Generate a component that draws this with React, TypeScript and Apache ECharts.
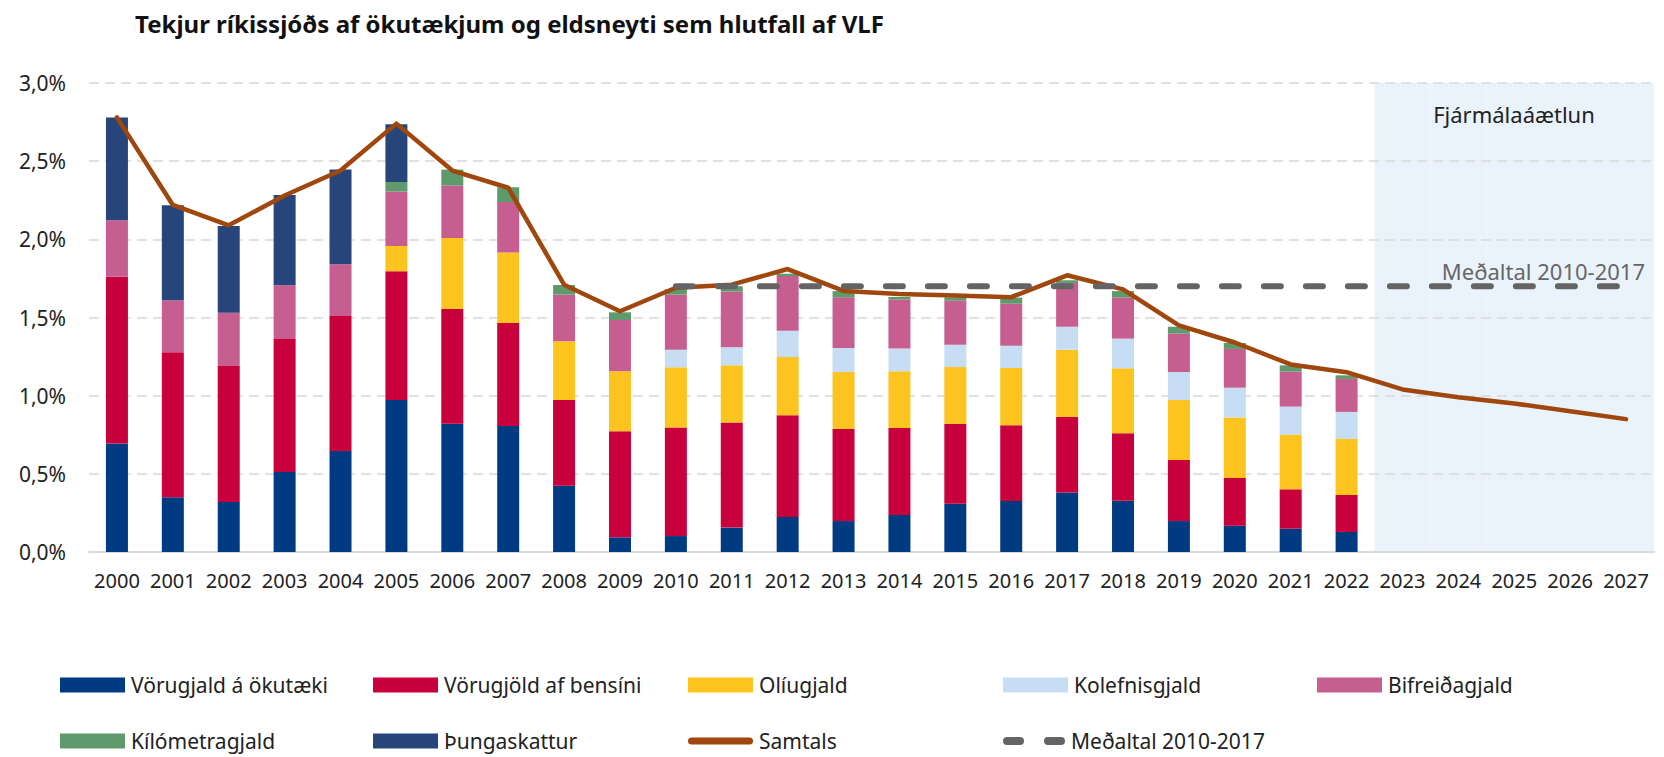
import React, { useEffect, useRef } from 'react';
import * as echarts from 'echarts';

const categories = ['2000','2001','2002','2003','2004','2005','2006','2007','2008','2009','2010','2011','2012','2013','2014','2015','2016','2017','2018','2019','2020','2021','2022','2023','2024','2025','2026','2027'];

const vorugjaldOkutaeki = [0.694,0.350,0.320,0.512,0.646,0.973,0.821,0.806,0.424,0.094,0.102,0.156,0.224,0.198,0.237,0.309,0.326,0.380,0.328,0.198,0.168,0.149,0.128];
const vorugjoldBensini = [1.066,0.928,0.870,0.851,0.864,0.823,0.734,0.659,0.548,0.678,0.695,0.673,0.650,0.589,0.556,0.510,0.484,0.484,0.431,0.390,0.305,0.252,0.237];
const oliugjald = [0,0,0,0,0,0.162,0.454,0.451,0.376,0.384,0.384,0.365,0.373,0.364,0.363,0.364,0.367,0.430,0.416,0.384,0.388,0.350,0.358];
const kolefnisgjald = [0,0,0,0,0,0,0,0,0,0,0.113,0.115,0.169,0.154,0.145,0.143,0.143,0.147,0.190,0.179,0.190,0.179,0.173];
const bifreidagjald = [0.362,0.332,0.341,0.343,0.331,0.348,0.335,0.323,0.298,0.328,0.352,0.356,0.349,0.324,0.313,0.282,0.268,0.280,0.262,0.246,0.248,0.224,0.211];
const kilometragjald = [0,0,0,0,0,0.061,0.102,0.094,0.062,0.049,0.036,0.035,0.015,0.040,0.017,0.021,0.039,0.017,0.042,0.044,0.038,0.040,0.023];
const thungaskattur = [0.657,0.608,0.555,0.578,0.605,0.369,0,0,0,0,0,0,0,0,0,0,0,0,0,0,0,0,0];
const samtals = [2.78,2.22,2.09,2.28,2.44,2.74,2.44,2.33,1.71,1.54,1.69,1.71,1.81,1.67,1.65,1.64,1.63,1.77,1.68,1.45,1.34,1.20,1.15,1.04,0.99,0.95,0.90,0.85];
const medaltal = [null,null,null,null,null,null,null,null,null,null,1.70,1.70,1.70,1.70,1.70,1.70,1.70,1.70,1.70,1.70,1.70,1.70,1.70,1.70,1.70,1.70,1.70,1.70];
const forecastBand = [null,null,null,null,null,null,null,null,null,null,null,null,null,null,null,null,null,null,null,null,null,null,null,3,3,3,3,3];
const yTicks = [0, 0.5, 1, 1.5, 2, 2.5, 3];

const FONT = '"Noto Sans", sans-serif';

const barSeriesDefs = [
  { name: 'Vörugjald á ökutæki', data: vorugjaldOkutaeki, color: '#003B82' },
  { name: 'Vörugjöld af bensíni', data: vorugjoldBensini, color: '#C8003C' },
  { name: 'Olíugjald', data: oliugjald, color: '#FDC41F' },
  { name: 'Kolefnisgjald', data: kolefnisgjald, color: '#C7DDF3' },
  { name: 'Bifreiðagjald', data: bifreidagjald, color: '#C65F90' },
  { name: 'Kílómetragjald', data: kilometragjald, color: '#5E9A6C' },
  { name: 'Þungaskattur', data: thungaskattur, color: '#26457A' },
];

const legendOrder = [
  'Vörugjald á ökutæki', 'Vörugjöld af bensíni', 'Olíugjald', 'Kolefnisgjald', 'Bifreiðagjald',
  'Kílómetragjald', 'Þungaskattur', 'Samtals', 'Meðaltal 2010-2017',
];

export default function App() {
  const ref = useRef<HTMLDivElement>(null);
  useEffect(() => {
    document.body.style.margin = '0';
    if (!ref.current) return;
    const chart = echarts.init(ref.current, undefined, { renderer: 'svg' });
    const colLefts = [60, 373, 688, 1003, 1317];
    const rowTops = [673, 729];
    const legends = legendOrder.map((name, i) => {
      const col = i % 5;
      const row = Math.floor(i / 5);
      let icon = 'rect';
      let itemWidth = 65;
      let itemHeight = 15;
      if (name === 'Samtals') {
        icon = 'path://M3.5,0 H61.5 A3.5,3.5 0 0 1 61.5,7 H3.5 A3.5,3.5 0 0 1 3.5,0 Z';
        itemHeight = 7;
      } else if (name === 'Meðaltal 2010-2017') {
        icon = 'path://M4,0 H17 A4,4 0 0 1 17,8 H4 A4,4 0 0 1 4,0 Z M45,0 H58 A4,4 0 0 1 58,8 H45 A4,4 0 0 1 45,0 Z';
        itemWidth = 62;
        itemHeight = 8;
      }
      return {
        data: [name],
        left: colLefts[col],
        top: rowTops[row],
        icon,
        itemWidth,
        itemHeight,
        selectedMode: false,
        padding: 0,
        itemStyle: { borderWidth: 0 },
        lineStyle: { width: 0 },
        textStyle: { fontFamily: FONT, fontSize: 21, lineHeight: 24, color: '#222', padding: [0, 0, 0, 1] },
      };
    });

    chart.setOption({
      animation: false,
      textStyle: { fontFamily: FONT },
      title: {
        text: 'Tekjur ríkissjóðs af ökutækjum og eldsneyti sem hlutfall af VLF',
        left: 130,
        top: 6,
        textStyle: { fontFamily: FONT, fontSize: 24, fontWeight: 'bold', color: '#111' },
      },
      legend: legends,
      grid: { left: 89, right: 10, top: 83, bottom: 205, containLabel: false },
      xAxis: [
        {
          type: 'category',
          data: categories,
          axisLine: { lineStyle: { color: '#D9D9D9', width: 2 } },
          axisTick: { show: false },
          axisLabel: { fontFamily: FONT, fontSize: 20, color: '#222', margin: 18, interval: 0 },
        },
        {
          type: 'category',
          data: categories,
          show: false,
        },
      ],
      yAxis: {
        type: 'value',
        min: yTicks[0],
        max: yTicks[yTicks.length - 1],
        interval: 0.5,
        axisLine: { show: false },
        axisTick: { show: false },
        splitLine: { lineStyle: { color: '#D9D9D9', width: 1.5, type: [10, 6] } },
        axisLabel: {
          fontFamily: FONT,
          fontSize: 21,
          color: '#222',
          margin: 23,
          formatter: (v: number) => v.toFixed(1).replace('.', ',') + '%',
        },
      },
      graphic: [
        {
          type: 'text',
          x: 1514,
          y: 114,
          z: 10,
          style: {
            text: 'Fjármálaáætlun', font: `22px ${FONT}`, fill: '#222',
            textAlign: 'center', textVerticalAlign: 'middle',
          },
        },
        {
          type: 'text',
          x: 1645,
          y: 271,
          z: 10,
          style: {
            text: 'Meðaltal 2010-2017', font: `22px ${FONT}`, fill: '#666',
            textAlign: 'right', textVerticalAlign: 'middle',
          },
        },
      ],
      series: [
        {
          name: 'forecast',
          type: 'bar',
          xAxisIndex: 1,
          data: forecastBand,
          barWidth: '100%',
          z: -1,
          silent: true,
          itemStyle: { color: '#EAF3FB' },
        },
        ...barSeriesDefs.map((s) => ({
          name: s.name,
          type: 'bar',
          stack: 'total',
          barWidth: 22,
          data: s.data,
          itemStyle: { color: s.color },
        })),
        {
          name: 'Samtals',
          type: 'line',
          data: samtals,
          symbol: 'none',
          z: 5,
          itemStyle: { color: '#A0470E' },
          lineStyle: { color: '#A0470E', width: 4.5, join: 'round', cap: 'round' },
        },
        {
          name: 'Meðaltal 2010-2017',
          type: 'line',
          data: medaltal,
          symbol: 'none',
          z: 6,
          itemStyle: { color: '#646464' },
          lineStyle: { color: '#646464', width: 6, type: [17, 25], cap: 'round' },
        },
      ],
    });
    return () => chart.dispose();
  }, []);
  return <div ref={ref} style={{ width: 1664, height: 757 }} />;
}
